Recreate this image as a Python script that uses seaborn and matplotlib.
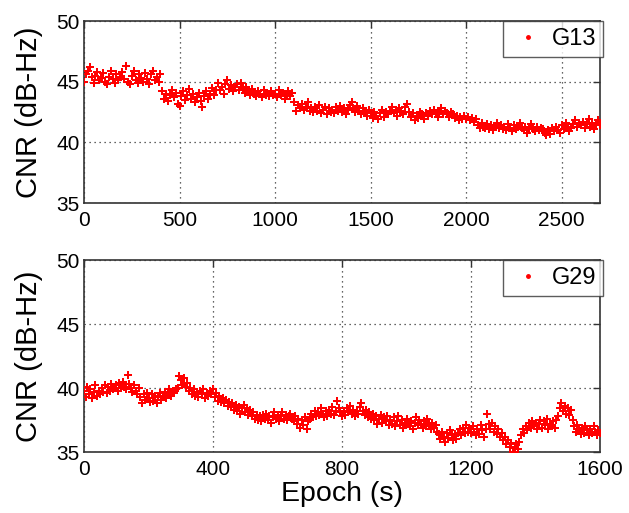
import numpy as np
import pandas as pd
import matplotlib
matplotlib.use("Agg")
import matplotlib.pyplot as plt
import seaborn as sns
from matplotlib.lines import Line2D

# ---- data ----
g13_step = 10  # seconds between listed samples
g13_cnr = [
    45.0, 45.6, 45.9, 46.2, 45.4, 44.9, 45.5, 45.8, 45.1, 45.3,
    45.7, 45.0, 44.8, 45.4, 45.9, 45.2, 44.9, 45.6, 45.1, 45.4,
    45.8, 45.2, 46.3, 45.0, 44.8, 45.5, 45.9, 45.1, 44.9, 45.6,
    45.3, 45.0, 45.7, 45.2, 44.8, 45.6, 45.9, 45.1, 45.4, 45.0,
    45.6, 44.2, 43.6, 44.0, 43.4, 43.9, 44.3, 43.7, 44.1, 43.2,
    43.0, 43.8, 44.2, 43.5, 43.9, 44.4, 43.6, 44.0, 43.3, 43.7,
    44.1, 43.4, 42.9, 43.8, 44.2, 43.6, 44.0, 44.5, 43.9, 44.3,
    44.9, 44.3, 44.6, 44.0, 44.8, 45.1, 44.4, 44.7, 44.2, 44.6,
    44.8, 44.3, 44.9, 44.5, 44.1, 44.6, 44.2, 43.9, 44.4, 44.0,
    43.8, 44.2, 44.0, 43.7, 44.3, 43.9, 44.1, 43.8, 44.2, 43.9,
    44.0, 43.7, 44.3, 43.9, 44.1, 43.6, 44.0, 44.2, 43.8, 44.1,
    43.3, 42.6, 43.1, 42.8, 43.2, 42.7, 42.9, 43.3, 42.6, 42.8,
    42.5, 42.9, 42.6, 43.1, 42.4, 42.7, 42.9, 42.3, 42.8, 42.5,
    42.7, 42.4, 42.9, 42.6, 43.0, 42.5, 42.8, 42.3, 42.7, 43.1,
    43.3, 42.8, 42.5, 43.0, 42.6, 42.3, 42.8, 42.5, 42.2, 42.7,
    42.4, 42.0, 42.5, 42.2, 41.9, 42.4, 42.7, 42.1, 42.5, 42.3,
    42.6, 42.9, 42.4, 42.7, 42.2, 42.8, 42.5, 42.3, 42.9, 43.2,
    42.5, 42.1, 42.4, 41.8, 42.2, 42.0, 42.5, 42.3, 41.9, 42.4,
    42.2, 42.6, 42.3, 42.7, 42.4, 42.1, 42.5, 42.8, 42.3, 42.6,
    42.4, 42.1, 42.5, 42.3, 42.0, 42.2, 41.8, 42.1, 41.9, 42.2,
    41.9, 42.1, 41.8, 42.0, 41.7, 41.9, 41.4, 41.2, 41.6, 41.3,
    41.2, 41.5, 41.1, 41.4, 41.0, 41.3, 41.6, 41.2, 41.4, 41.1,
    41.3, 41.0, 41.5, 41.2, 40.9, 41.4, 41.1, 41.3, 41.6, 41.2,
    41.0, 41.3, 40.8, 41.2, 41.5, 41.1, 40.9, 41.3, 41.0, 41.2,
    41.1, 40.8, 40.6, 41.0, 40.7, 41.2, 40.9, 41.3, 41.0, 40.8,
    41.4, 41.1, 41.6, 41.3, 40.9, 41.2, 41.5, 41.8, 41.3, 41.6,
    41.4, 41.7, 41.2, 41.5, 41.9, 41.3, 41.6, 41.1, 41.5, 41.8,
    41.4,
]

g29_step = 5
g29_cnr = [
    39.8, 39.3, 40.1, 39.5, 39.9, 39.2, 39.7, 40.2, 39.4, 39.8,
    39.5, 40.0, 39.7, 40.2, 39.6, 40.1, 39.8, 40.3, 39.9, 40.0,
    40.2, 39.8, 40.4, 40.0, 40.5, 40.1, 39.9, 41.0, 40.3, 40.0,
    39.7, 40.2, 39.8, 39.5, 40.0, 39.3, 38.8, 39.5, 39.1, 39.6,
    39.2, 38.9, 39.5, 39.0, 39.4, 38.8, 39.3, 39.6, 39.1, 39.4,
    39.7, 39.2, 39.5, 39.9, 39.4, 39.8, 39.6, 39.9, 40.0, 40.9,
    40.6, 40.2, 40.8, 40.1, 40.4, 39.8, 40.0, 39.5, 39.9, 39.4,
    39.7, 39.3, 39.8, 39.5, 39.9, 39.2, 39.6, 39.4, 39.8, 39.5,
    39.9, 39.3, 39.6, 39.0, 39.4, 38.9, 39.2, 38.8, 39.1, 38.6,
    38.9, 38.5, 38.8, 38.3, 38.7, 38.2, 38.5, 38.0, 38.4, 38.7,
    38.1, 38.4, 37.9, 38.3, 37.8, 38.1, 37.6, 37.9, 37.5, 37.8,
    37.4, 37.9, 37.6, 38.0, 37.5, 37.8, 37.3, 37.7, 38.1, 37.6,
    37.9, 37.4, 37.8, 38.1, 37.6, 37.9, 37.5, 37.8, 38.0, 37.6,
    37.4, 37.8, 37.2, 37.6, 36.9, 37.5, 37.1, 37.7, 36.8, 37.4,
    37.6, 38.0, 37.7, 38.2, 37.8, 38.1, 37.9, 38.4, 38.0, 37.7,
    38.2, 37.8, 38.3, 38.0, 38.5, 37.9, 38.2, 39.0, 38.4, 38.1,
    37.8, 38.2, 37.9, 38.4, 38.1, 38.6, 38.0, 38.3, 37.8, 38.2,
    38.0, 38.5, 38.8, 38.2, 37.9, 38.3, 37.7, 38.1, 37.6, 38.0,
    37.5, 37.8, 37.2, 37.6, 37.9, 37.3, 37.7, 37.4, 37.8, 37.1,
    37.5, 37.2, 37.7, 37.0, 37.4, 37.8, 37.1, 37.5, 36.9, 37.3,
    37.6, 37.2, 37.0, 37.4, 36.8, 37.3, 37.7, 37.1, 37.5, 37.2,
    36.9, 37.4, 37.0, 37.6, 37.2, 36.8, 37.3, 36.9, 37.1, 36.6,
    36.4, 36.0, 36.6, 36.2, 35.8, 36.5, 36.1, 36.7, 36.3, 35.9,
    36.4, 36.0, 36.5, 36.8, 36.3, 36.9, 36.5, 37.1, 36.6, 36.9,
    36.5, 37.0, 36.6, 36.3, 36.8, 36.4, 37.1, 36.7, 36.2, 36.8,
    38.0, 37.2, 36.8, 37.3, 36.6, 37.0, 36.4, 36.8, 36.2, 36.5,
    35.9, 36.2, 35.6, 35.9, 35.4, 35.7, 35.0, 35.3, 35.6, 35.2,
    35.8, 36.3, 36.8, 36.5, 37.0, 36.7, 37.3, 36.9, 37.4, 37.0,
    37.3, 36.8, 37.2, 37.5, 36.9, 37.4, 37.1, 37.6, 36.8, 37.2,
    37.0, 37.4, 36.9, 37.5, 37.8, 38.4, 38.8, 38.2, 38.6, 38.0,
    38.4, 37.9, 38.3, 37.5, 37.0, 36.6, 37.1, 36.7, 36.4, 36.9,
    36.5, 37.0, 36.7, 36.3, 36.8, 36.5, 37.0, 36.6, 36.3, 36.7,
    36.5,
]

panels = [
    dict(name="G13", cnr=g13_cnr, step=g13_step, xlim=(0, 2700),
         xticks=[0, 500, 1000, 1500, 2000, 2500]),
    dict(name="G29", cnr=g29_cnr, step=g29_step, xlim=(0, 1600),
         xticks=[0, 400, 800, 1200, 1600]),
]
yticks = [35, 40, 45, 50]

# ---- style ----
sns.set_theme(style="white")
plt.rcParams["font.family"] = ["Liberation Sans", "DejaVu Sans"]
plt.rcParams["xtick.direction"] = "in"
plt.rcParams["ytick.direction"] = "in"
plt.rcParams["text.color"] = "black"
plt.rcParams["axes.labelcolor"] = "black"
plt.rcParams["xtick.labelcolor"] = "black"
plt.rcParams["ytick.labelcolor"] = "black"

fig = plt.figure(figsize=(6.29, 5.13), dpi=100)
rects = [
    [84 / 629, (513 - 203) / 513, 516 / 629, 182 / 513],
    [84 / 629, (513 - 452) / 513, 516 / 629, 192 / 513],
]

for rect, p in zip(rects, panels):
    ax = fig.add_axes(rect)
    df = pd.DataFrame({
        "epoch": np.arange(len(p["cnr"])) * p["step"],
        "cnr": p["cnr"],
    })
    sns.scatterplot(data=df, x="epoch", y="cnr", ax=ax, color="#ff0000",
                    marker="P", s=34, linewidth=0, legend=False, zorder=3)
    ax.set_xlim(*p["xlim"])
    ax.set_ylim(35, 50)
    ax.set_xticks(p["xticks"])
    ax.set_yticks(yticks)
    ax.tick_params(labelsize=15, length=5, width=1, color="#333333",
                   labelcolor="black", top=True, right=True)
    ax.tick_params(axis="x", pad=6)
    ax.tick_params(axis="y", pad=3)
    ax.grid(True, linestyle=(0, (1, 3)), color="#333333", linewidth=0.9)
    for s in ax.spines.values():
        s.set_color("#333333")
        s.set_linewidth(1.2)
    ax.set_ylabel("CNR (dB-Hz)", fontsize=21, labelpad=10, color="black")
    ax.set_xlabel("")
    handle = Line2D([], [], linestyle="none", marker=".", color="#ff0000",
                    markersize=5)
    leg = ax.legend([handle], [p["name"]], loc="upper right",
                    bbox_to_anchor=(1.006, 1.0), borderaxespad=0,
                    fontsize=17, frameon=True, fancybox=False,
                    handlelength=1.5, handletextpad=0.25,
                    borderpad=0.3)
    for t in leg.get_texts():
        t.set_color("black")
    leg.get_frame().set_edgecolor("#333333")
    leg.get_frame().set_linewidth(1.0)
    if p["name"] == "G29":
        ax.set_xlabel("Epoch (s)", fontsize=20.5, labelpad=1, color="black")

fig.savefig("out.png", dpi=100)
